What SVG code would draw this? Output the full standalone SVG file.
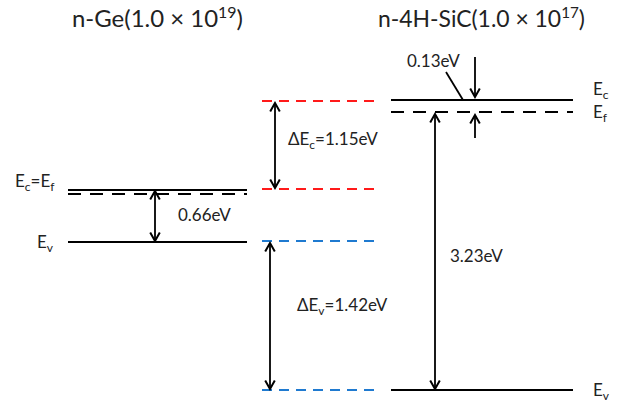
<svg xmlns="http://www.w3.org/2000/svg" width="624" height="403" viewBox="0 0 624 403">
<style>
text{font-family:Lato,"Liberation Sans",sans-serif;fill:#222}
.t{font-size:24px}
.l{font-size:17px}
.s{stroke:#000;stroke-width:2.2;fill:none}
.d{stroke:#000;stroke-width:2.2;stroke-dasharray:13 9;fill:none}
.r{stroke:#ff1a1a;stroke-width:2.2;stroke-dasharray:10 7;fill:none}
.b{stroke:#1f7ad0;stroke-width:2.2;stroke-dasharray:10 7;fill:none}
.a{stroke:#000;stroke-width:1.8;fill:none}
</style>
<defs>
<marker id="ah" viewBox="-10 -6 12 12" refX="0" refY="0" markerWidth="12" markerHeight="12" markerUnits="userSpaceOnUse" orient="auto-start-reverse">
<path d="M-8.5,-4.8 L0,0 L-8.5,4.8" fill="none" stroke="#000" stroke-width="2"/>
</marker>
</defs>
<g id="titles">
<text class="t" x="72" y="27" textLength="171" lengthAdjust="spacingAndGlyphs">n-Ge(1.0 × 10<tspan font-size="16" dy="-9">19</tspan><tspan dy="9">)</tspan></text>
<text class="t" x="378" y="27" textLength="207" lengthAdjust="spacingAndGlyphs">n-4H-SiC(1.0 × 10<tspan font-size="16" dy="-9">17</tspan><tspan dy="9">)</tspan></text>
</g>
<g id="ge">
<line class="s" x1="68" y1="190" x2="247" y2="190"/>
<line class="d" x1="68" y1="194" x2="247" y2="194"/>
<line class="s" x1="68" y1="242" x2="247" y2="242"/>
<text class="l" x="15" y="187">E<tspan font-size="12" dy="4">c</tspan><tspan dy="-4">=E</tspan><tspan font-size="12" dy="4">f</tspan></text>
<text class="l" x="37" y="248">E<tspan font-size="12" dy="4">v</tspan></text>
<text class="l" x="178" y="221">0.66eV</text>
</g>
<g id="offsets">
<line class="r" x1="262" y1="101" x2="380" y2="101"/>
<line class="r" x1="262" y1="189" x2="380" y2="189"/>
<line class="b" x1="262" y1="241" x2="380" y2="241"/>
<line class="b" x1="262" y1="390" x2="380" y2="390"/>
<text class="l" x="288" y="145">ΔE<tspan font-size="12" dy="4">c</tspan><tspan dy="-4">=1.15eV</tspan></text>
<text class="l" x="297" y="311">ΔE<tspan font-size="12" dy="4">v</tspan><tspan dy="-4">=1.42eV</tspan></text>
</g>
<g id="sic">
<line class="s" x1="391" y1="100" x2="573" y2="100"/>
<line class="d" x1="391" y1="112" x2="573" y2="112"/>
<line class="s" x1="391" y1="390" x2="573" y2="390"/>
<text class="l" x="593" y="95">E<tspan font-size="12" dy="4">c</tspan></text>
<text class="l" x="593" y="118">E<tspan font-size="12" dy="4">f</tspan></text>
<text class="l" x="593" y="396">E<tspan font-size="12" dy="4">v</tspan></text>
<text class="l" x="407" y="67">0.13eV</text>
<text class="l" x="450" y="262">3.23eV</text>
</g>
<g id="connectors">
<line class="a" x1="155" y1="191" x2="155" y2="241" marker-start="url(#ah)" marker-end="url(#ah)"/>
<line class="a" x1="275" y1="103" x2="275" y2="188" marker-start="url(#ah)" marker-end="url(#ah)"/>
<line class="a" x1="270" y1="243" x2="270" y2="389" marker-start="url(#ah)" marker-end="url(#ah)"/>
<line class="a" x1="435" y1="114" x2="435" y2="389" marker-start="url(#ah)" marker-end="url(#ah)"/>
<line class="a" x1="475" y1="57" x2="475" y2="97" marker-end="url(#ah)"/>
<line class="a" x1="475" y1="138" x2="475" y2="115" marker-end="url(#ah)"/>
<line class="a" x1="446" y1="72" x2="463" y2="100"/>
</g>
</svg>
